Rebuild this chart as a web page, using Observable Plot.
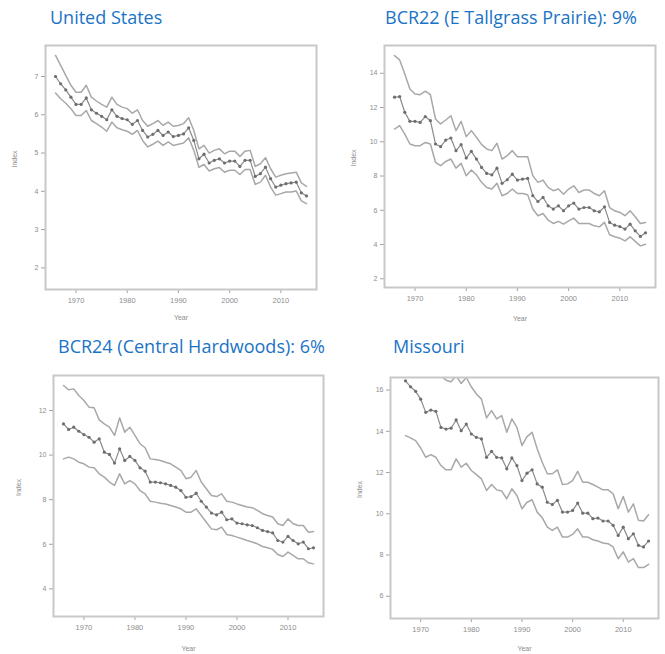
<!DOCTYPE html>
<html>
<head>
<meta charset="utf-8">
<script src="https://cdn.jsdelivr.net/npm/d3@7"></script>
<script src="https://cdn.jsdelivr.net/npm/@observablehq/plot@0.6"></script>
<style>
  html, body { margin: 0; padding: 0; background: #fff; }
  #page { position: relative; width: 665px; height: 654px; overflow: hidden; background: #fff; }
  .title { position: absolute; font-family: "Open Sans", sans-serif; font-size: 18px; line-height: 24px; color: #1a73c6; white-space: nowrap; }
  .panel { position: absolute; }
  .panel svg { display: block; overflow: hidden; }
</style>
</head>
<body>
<div id="page"></div>
<script>
// ---------- data ----------
const years = [1966,1967,1968,1969,1970,1971,1972,1973,1974,1975,1976,1977,1978,1979,1980,1981,1982,1983,1984,1985,1986,1987,1988,1989,1990,1991,1992,1993,1994,1995,1996,1997,1998,1999,2000,2001,2002,2003,2004,2005,2006,2007,2008,2009,2010,2011,2012,2013,2014,2015];
const moYears = [1967,1968,1969,1970,1971,1972,1973,1974,1975,1976,1977,1978,1979,1980,1981,1982,1983,1984,1985,1986,1987,1988,1989,1990,1991,1992,1993,1994,1995,1996,1997,1998,1999,2000,2001,2002,2003,2004,2005,2006,2007,2008,2009,2010,2011,2012,2013,2014,2015];
const xTicks = [1970, 1980, 1990, 2000, 2010];

const titles = ["United States", "BCR22 (E Tallgrass Prairie): 9%", "BCR24 (Central Hardwoods): 6%", "Missouri"];

const usTicks = [7, 6, 5, 4, 3, 2];
const usIndex = [7.00,6.81,6.65,6.46,6.27,6.27,6.44,6.13,6.04,5.96,5.87,6.13,5.96,5.90,5.87,5.75,5.85,5.59,5.42,5.49,5.59,5.46,5.55,5.43,5.46,5.50,5.66,5.33,4.85,4.97,4.74,4.81,4.85,4.74,4.79,4.79,4.65,4.81,4.81,4.39,4.46,4.63,4.33,4.11,4.16,4.20,4.22,4.24,3.96,3.88];
const usUpper = [7.55,7.29,7.03,6.77,6.59,6.59,6.77,6.46,6.36,6.27,6.20,6.46,6.27,6.20,6.16,6.04,6.13,5.85,5.70,5.77,5.85,5.72,5.81,5.70,5.72,5.77,5.92,5.59,5.11,5.20,5.00,5.07,5.11,4.98,5.05,5.05,4.91,5.05,5.07,4.65,4.72,4.88,4.59,4.37,4.42,4.46,4.48,4.50,4.22,4.13];
const usLower = [6.57,6.42,6.30,6.16,5.98,5.98,6.11,5.85,5.77,5.68,5.57,5.81,5.66,5.61,5.57,5.49,5.59,5.33,5.16,5.23,5.31,5.20,5.29,5.20,5.23,5.26,5.40,5.07,4.63,4.70,4.53,4.59,4.62,4.50,4.55,4.55,4.44,4.57,4.57,4.18,4.24,4.42,4.11,3.90,3.94,3.98,3.98,4.01,3.75,3.68];

const bcr22Ticks = [14, 12, 10, 8, 6, 4, 2];
const bcr22Index = [12.60,12.64,11.72,11.19,11.19,11.13,11.47,11.23,9.87,9.71,10.10,10.22,9.48,9.83,9.05,9.44,8.99,8.50,8.15,8.07,8.46,7.57,7.78,8.11,7.76,7.82,7.86,6.85,6.51,6.75,6.26,6.07,6.26,5.97,6.26,6.42,6.07,6.16,6.16,5.97,5.91,6.20,5.29,5.13,5.05,4.90,5.19,4.80,4.47,4.68];
const bcr22Upper = [15.03,14.78,13.96,13.08,12.79,12.75,12.95,12.75,11.33,11.04,11.27,11.52,10.65,11.19,10.30,10.65,10.26,9.83,9.58,9.48,9.91,8.99,9.19,9.48,9.13,9.13,9.13,8.02,7.63,7.76,7.33,7.14,7.24,6.94,7.24,7.43,7.04,7.18,7.18,6.98,6.85,7.14,6.16,5.97,5.87,5.68,5.97,5.62,5.23,5.29];
const bcr22Lower = [10.74,10.94,10.45,9.87,9.77,9.77,9.96,9.87,8.80,8.60,8.85,8.99,8.46,8.74,8.02,8.35,8.07,7.63,7.33,7.24,7.57,6.85,6.98,7.24,6.98,6.98,6.90,6.07,5.68,5.81,5.42,5.23,5.35,5.19,5.38,5.54,5.23,5.23,5.23,5.09,5.03,5.29,4.57,4.45,4.37,4.21,4.45,4.18,3.92,4.02];

const bcr24Ticks = [12, 10, 8, 6, 4];
const bcr24Index = [11.40,11.15,11.25,11.07,10.92,10.80,10.58,10.73,10.13,10.03,9.64,10.28,9.76,9.94,9.76,9.43,9.28,8.79,8.79,8.76,8.71,8.64,8.56,8.41,8.11,8.14,8.29,7.93,7.67,7.40,7.32,7.44,7.10,7.14,6.95,6.92,6.87,6.84,6.74,6.62,6.57,6.51,6.17,6.10,6.35,6.17,6.02,6.10,5.80,5.84];
const bcr24Upper = [13.12,12.93,12.97,12.67,12.45,12.15,12.12,11.58,11.40,11.25,10.88,11.67,11.03,11.25,10.88,10.51,10.33,9.83,9.80,9.76,9.68,9.61,9.46,9.31,8.94,9.01,9.31,8.79,8.49,8.19,8.14,8.26,7.93,7.89,7.81,7.74,7.67,7.64,7.52,7.37,7.29,7.22,6.92,6.84,7.14,6.92,6.84,6.84,6.54,6.57];
const bcr24Lower = [9.83,9.91,9.83,9.68,9.61,9.46,9.43,9.16,9.01,8.79,8.64,9.16,8.71,8.86,8.71,8.41,8.26,7.93,7.89,7.84,7.81,7.74,7.67,7.59,7.44,7.44,7.59,7.29,6.99,6.69,6.65,6.77,6.44,6.39,6.32,6.25,6.17,6.10,6.02,5.90,5.84,5.77,5.54,5.45,5.65,5.50,5.35,5.35,5.17,5.12];

const moTicks = [16, 14, 12, 10, 8, 6];
const moIndex = [16.45,16.16,15.94,15.56,14.92,15.03,14.97,14.19,14.11,14.15,14.55,14.03,14.35,13.87,13.71,13.63,12.74,13.03,12.74,12.71,12.18,12.71,12.34,11.61,11.97,12.13,11.45,11.29,10.56,10.45,10.65,10.08,10.08,10.16,10.52,10.03,10.03,9.76,9.79,9.65,9.65,9.44,8.95,9.35,8.79,9.03,8.47,8.39,8.68];
const moUpper = [17.66,17.42,17.26,17.10,16.77,16.85,16.81,16.69,16.48,16.40,16.69,16.32,16.61,16.16,15.81,15.56,14.65,15.00,14.60,14.76,13.95,14.60,14.19,13.31,13.74,13.95,13.15,12.50,11.94,11.94,12.13,11.42,11.45,11.61,12.06,11.53,11.53,11.42,11.29,11.16,11.16,10.97,10.24,10.84,10.08,10.48,9.68,9.65,9.95];
const moLower = [13.79,13.68,13.55,13.19,12.74,12.87,12.74,12.34,12.13,12.13,12.66,12.26,12.45,12.10,11.90,11.69,11.13,11.42,11.16,11.10,10.73,11.21,10.89,10.24,10.56,10.68,10.08,9.81,9.35,9.19,9.35,8.87,8.87,9.00,9.27,8.87,8.87,8.74,8.68,8.58,8.55,8.39,7.82,8.15,7.66,7.82,7.39,7.39,7.55];

// ---------- drawing ----------
const page = document.getElementById("page");
const grey = "#a2a2a2";

function panel(cfg) {
  const rows = cfg.years.map((y, i) => ({year: y, idx: cfg.idx[i], lo: cfg.lo[i], hi: cfg.hi[i]}));
  const svg = Plot.plot({
    width: cfg.w, height: cfg.h,
    marginLeft: cfg.ml, marginRight: cfg.mr, marginTop: cfg.mt, marginBottom: cfg.mb,
    style: {background: "transparent", fontFamily: "'Liberation Sans', Arial, sans-serif"},
    x: {domain: [1964.04, 2016.96]},
    y: {domain: cfg.yDomain},
    marks: [
      Plot.axisX({ticks: xTicks, tickFormat: d => String(d), tickSize: 4, tickPadding: 4, fontSize: 7.5, fill: "#8c8c8c", stroke: grey, label: null}),
      Plot.axisY({ticks: cfg.ticks, tickFormat: d => String(d), tickSize: 4, tickPadding: 3, fontSize: 7, fill: "#8c8c8c", stroke: grey, label: null}),
      Plot.text(["Index"], {text: d => d, frameAnchor: "left", dx: -cfg.idxOff, rotate: -90, fontSize: 7, fill: "#8c8c8c"}),
      Plot.text(["Year"], {text: d => d, frameAnchor: "bottom", dy: cfg.yearOff, fontSize: 7, fill: "#8c8c8c"}),
      Plot.line(rows, {x: "year", y: "hi", stroke: "#a8a8a8", strokeWidth: 1.5, clip: true}),
      Plot.line(rows, {x: "year", y: "lo", stroke: "#a8a8a8", strokeWidth: 1.5, clip: true}),
      Plot.line(rows, {x: "year", y: "idx", stroke: "#8a8a8a", strokeWidth: 1.2, clip: true}),
      Plot.dot(rows, {x: "year", y: "idx", r: 1.6, fill: "#6e6e6e", clip: true}),
      Plot.frame({stroke: "#c8c8c8", strokeWidth: 2})
    ]
  });
  const div = document.createElement("div");
  div.className = "panel";
  div.style.left = cfg.left + "px";
  div.style.top = cfg.top + "px";
  div.appendChild(svg);
  page.appendChild(div);

  const t = document.createElement("div");
  t.className = "title";
  t.textContent = cfg.title;
  t.style.left = cfg.tx + "px";
  t.style.top = cfg.ty + "px";
  page.appendChild(t);
}

panel({title: titles[0], tx: 50, ty: 5, left: 0, top: 30, w: 330, h: 291, ml: 45, mr: 14, mt: 15, mb: 32,
  years, idx: usIndex, lo: usLower, hi: usUpper, yDomain: [1.435, 7.81], ticks: usTicks, idxOff: 31, yearOff: 30});
panel({title: titles[1], tx: 385, ty: 5, left: 330, top: 30, w: 335, h: 292, ml: 54, mr: 10, mt: 15, mb: 35,
  years, idx: bcr22Index, lo: bcr22Lower, hi: bcr22Upper, yDomain: [1.49, 15.62], ticks: bcr22Ticks, idxOff: 31, yearOff: 33});
panel({title: titles[2], tx: 58, ty: 334, left: 0, top: 360, w: 330, h: 294, ml: 53, mr: 7, mt: 15, mb: 38,
  years, idx: bcr24Index, lo: bcr24Lower, hi: bcr24Upper, yDomain: [2.76, 13.57], ticks: bcr24Ticks, idxOff: 35, yearOff: 34});
panel({title: titles[3], tx: 393, ty: 334, left: 330, top: 360, w: 335, h: 294, ml: 60, mr: 7, mt: 17, mb: 36,
  years: moYears, idx: moIndex, lo: moLower, hi: moUpper, yDomain: [4.92, 16.61], ticks: moTicks, idxOff: 31, yearOff: 32});
</script>
</body>
</html>
